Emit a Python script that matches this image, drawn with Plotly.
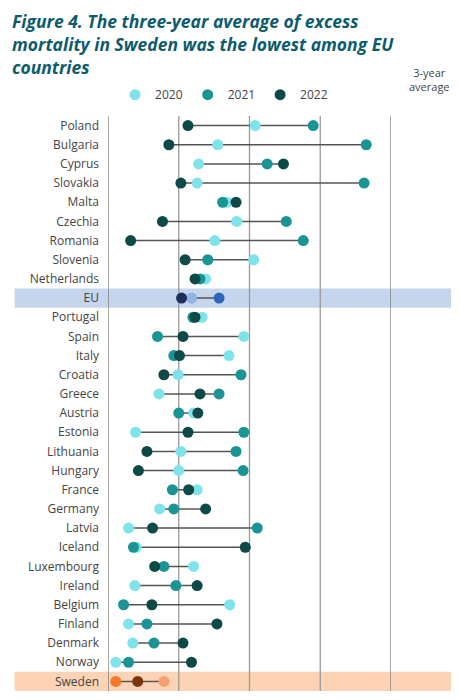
import plotly.graph_objects as go

countries = ["Poland","Bulgaria","Cyprus","Slovakia","Malta","Czechia","Romania","Slovenia","Netherlands","EU",
             "Portugal","Spain","Italy","Croatia","Greece","Austria","Estonia","Lithuania","Hungary","France",
             "Germany","Latvia","Iceland","Luxembourg","Ireland","Belgium","Finland","Denmark","Norway","Sweden"]
v2020 = [20.8,15.5,12.8,12.6,16.8,18.2,15.1,20.6,13.8,11.8,13.3,19.2,17.1,9.9,7.2,12.1,3.9,10.3,10.0,12.6,
         7.3,2.9,4.0,12.1,3.8,17.2,2.9,3.5,1.1,7.9]
v2021 = [29.0,36.5,22.5,36.2,16.2,25.2,27.6,14.1,13.0,15.7,12.0,7.0,9.3,18.8,15.7,10.0,19.2,18.1,19.1,9.1,
         9.3,21.1,3.6,7.9,9.6,2.2,5.5,6.5,2.9,1.1]
v2022 = [11.3,8.6,24.8,10.3,18.1,7.7,3.2,10.9,12.3,10.4,12.3,10.6,10.1,7.9,13.0,12.7,11.3,5.5,4.3,11.4,
         13.8,6.3,19.4,6.6,12.6,6.2,15.4,10.6,11.8,4.2]
avg = ["20.3 %","20.2 %","20.1 %","19.7 %","17.1 %","17.0 %","15.3 %","15.2 %","13.1 %","12.6 %",
       "12.4 %","12.2 %","12.2 %","12.1 %","11.9 %","11.6 %","11.4 %","11.2 %","11.1 %","11.0 %",
       "10.1 %","10.1 %","9.1 %","8.8 %","8.6 %","8.5 %","7.9 %","6.8 %","5.2 %","4.4 %"]
years = ["2020","2021","2022"]

cols = {"default": ["#7fe3ec","#1a9494","#0d4a47"],
        "EU": ["#8eb4e0","#2f66b8","#1b2f5c"],
        "Sweden": ["#f4a070","#f07a2a","#7a3508"]}

fig = go.Figure()
lx, ly = [], []
for c, a, b, d in zip(countries, v2020, v2021, v2022):
    lx += [min(a, b, d), max(a, b, d), None]
    ly += [c, c, None]
fig.add_trace(go.Scatter(x=lx, y=ly, mode="lines", line=dict(color="#555555", width=1.5),
                         showlegend=False, hoverinfo="skip"))

series = [v2020, v2021, v2022]
for k, yr in enumerate(years):
    for group in ["default", "EU", "Sweden"]:
        if group == "default":
            idx = [i for i, c in enumerate(countries) if c not in ("EU", "Sweden")]
        else:
            idx = [countries.index(group)]
        fig.add_trace(go.Scatter(
            x=[series[k][i] for i in idx], y=[countries[i] for i in idx],
            mode="markers", name=yr, showlegend=(group == "default"),
            marker=dict(color=cols[group][k], size=11)))

shapes = []
for c, colr in [("EU", "#c5d5ec"), ("Sweden", "#fcd3b4")]:
    i = countries.index(c)
    shapes.append(dict(type="rect", xref="paper", yref="y", x0=-0.33, x1=1.218,
                       y0=i - 0.5, y1=i + 0.5, fillcolor=colr, line_width=0, layer="below"))
for gx in [0, 10, 20, 30, 40]:
    shapes.append(dict(type="line", xref="x", yref="paper", x0=gx, x1=gx, y0=0, y1=1,
                       line=dict(color="#777777" if gx in (0, 40) else "#999999", width=1.3), layer="below"))

annotations = [dict(x=41.5, y=c, xref="x", yref="y", text=a, showarrow=False, xanchor="left",
                    font=dict(size=11.5, color="#444444")) for c, a in zip(countries, avg)]
annotations.append(dict(xref="paper", yref="paper", x=-0.346, y=1.19, xanchor="left", yanchor="top",
                        align="left", showarrow=False,
                        text="<b><i>Figure 4. The three-year average of excess<br>mortality in Sweden was the lowest among EU<br>countries</i></b>",
                        font=dict(size=17.5, color="#0e5c6b", family="Open Sans")))
annotations.append(dict(xref="paper", yref="paper", x=1.135, y=1.035, xanchor="center", yanchor="bottom",
                        showarrow=False, text="3-year<br>average", font=dict(size=11, color="#444444")))

fig.update_layout(
    width=451, height=692, plot_bgcolor="white", paper_bgcolor="white",
    margin=dict(l=100, r=68, t=108, b=9, autoexpand=False),
    font=dict(family="Open Sans", color="#444444"),
    xaxis=dict(range=[0, 40], showgrid=False, showticklabels=False, zeroline=False, fixedrange=True),
    yaxis=dict(categoryorder="array", categoryarray=countries, range=[29.5, -0.5], autorange=False,
               showgrid=False, tickfont=dict(size=12, color="#444444"), ticks="", ticklabelstandoff=8),
    legend=dict(orientation="h", x=0.025, y=1.037, xanchor="left", yanchor="middle",
                font=dict(size=12), itemwidth=30, tracegroupgap=0),
    shapes=shapes, annotations=annotations,
)
fig.write_html("out.html")
